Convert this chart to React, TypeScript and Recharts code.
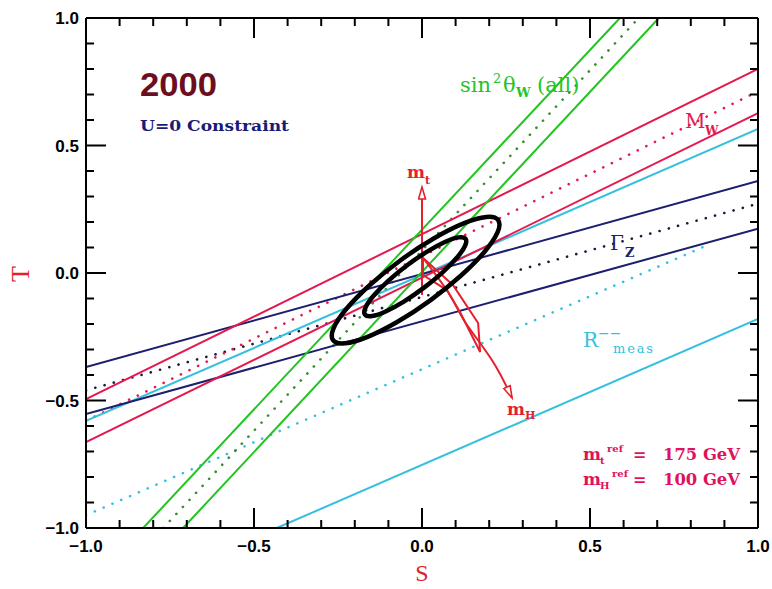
import React from "react";
import { ComposedChart, Line, XAxis, YAxis } from "recharts";

// ---------- data (S, T) ----------
const TICKS = [-1, -0.9, -0.8, -0.7, -0.6, -0.5, -0.4, -0.3, -0.2, -0.1, 0, 0.1, 0.2, 0.3, 0.4, 0.5, 0.6, 0.7, 0.8, 0.9, 1];
const MAJOR_TICKS = [-1, -0.5, 0, 0.5, 1];
const MAJOR_LABELS = ["\u22121.0", "\u22120.5", "0.0", "0.5", "1.0"];

// sin^2 theta_W (all) band
const SIN2_UPPER = [{ S: -0.83, T: -1 }, { S: 0.589, T: 1 }];
const SIN2_CENTER = [{ S: -0.77, T: -1 }, { S: 0.645, T: 1 }];
const SIN2_LOWER = [{ S: -0.711, T: -1 }, { S: 0.705, T: 1 }];

// M_W band
const MW_UPPER = [{ S: -1, T: -0.495 }, { S: 1, T: 0.8 }];
const MW_CENTER = [{ S: -1, T: -0.58 }, { S: 1, T: 0.712 }];
const MW_LOWER = [{ S: -1, T: -0.663 }, { S: 1, T: 0.627 }];

// Gamma_Z band
const GZ_UPPER = [{ S: -1, T: -0.369 }, { S: 1, T: 0.361 }];
const GZ_CENTER = [{ S: -1, T: -0.46 }, { S: 1, T: 0.272 }];
const GZ_LOWER = [{ S: -1, T: -0.553 }, { S: 1, T: 0.174 }];

// R_meas band
const R_UPPER = [{ S: -1, T: -0.58 }, { S: 1, T: 0.565 }];
const R_CENTER = [{ S: -1, T: -0.95 }, { S: 0.86, T: 0.115 }];
const R_LOWER = [{ S: -0.432, T: -1 }, { S: 1, T: -0.18 }];

// confidence contours
const OUTER_CONTOUR = [
  { S: 0.2331, T: 0.2134 }, { S: 0.1967, T: 0.2262 }, { S: 0.1275, T: 0.2001 }, { S: 0.0362, T: 0.1395 },
  { S: -0.0638, T: 0.0532 }, { S: -0.157, T: -0.0455 }, { S: -0.2289, T: -0.1413 }, { S: -0.2691, T: -0.22 },
  { S: -0.2711, T: -0.2694 }, { S: -0.2347, T: -0.2822 }, { S: -0.1655, T: -0.2561 }, { S: -0.0742, T: -0.1955 },
  { S: 0.0258, T: -0.1092 }, { S: 0.119, T: -0.0105 }, { S: 0.1909, T: 0.0853 }, { S: 0.2311, T: 0.164 },
];
const INNER_CONTOUR = [
  { S: 0.1336, T: 0.138 }, { S: 0.112, T: 0.1437 }, { S: 0.0704, T: 0.1252 }, { S: 0.015, T: 0.0856 },
  { S: -0.0458, T: 0.0306 }, { S: -0.1026, T: -0.0312 }, { S: -0.1468, T: -0.0904 }, { S: -0.1718, T: -0.1381 },
  { S: -0.1736, T: -0.167 }, { S: -0.152, T: -0.1727 }, { S: -0.1104, T: -0.1542 }, { S: -0.055, T: -0.1146 },
  { S: 0.0058, T: -0.0596 }, { S: 0.0626, T: 0.0022 }, { S: 0.1068, T: 0.0614 }, { S: 0.1318, T: 0.1091 },
];

// SM arrows
const MT_ARROW = [{ S: 0, T: -0.086 }, { S: 0, T: 0.337 }];
const MH_ARROW = [
  { S: 0.003, T: 0.059 }, { S: 0.083, T: -0.086 }, { S: 0.128, T: -0.192 }, { S: 0.208, T: -0.341 }, { S: 0.268, T: -0.49 },
];
const SM_BAND = [
  { S: 0.003, T: 0.059 }, { S: 0.092, T: -0.047 }, { S: 0.167, T: -0.196 }, { S: 0.173, T: -0.31 },
  { S: 0.113, T: -0.153 }, { S: 0.074, T: -0.067 }, { S: 0.003, T: -0.008 },
];

// ---------- styling ----------
const GREEN = "#22c41f";
const RED = "#e3194f";
const NAVY = "#1c1f6e";
const CYAN = "#34c0de";
const ARROW_RED = "#e3202c";

const isMajor = (v: number) => MAJOR_TICKS.some((m) => Math.abs(m - v) < 1e-6);
const labelOf = (v: number) => {
  const i = MAJOR_TICKS.findIndex((m) => Math.abs(m - v) < 1e-6);
  return i >= 0 ? MAJOR_LABELS[i] : "";
};

const TICK_FONT = { fontFamily: "Liberation Sans, Arial, sans-serif", fontWeight: 700, fontSize: 17 } as const;

const BottomTick = (p: any) => {
  const v = p.payload.value;
  const major = isMajor(v);
  return (
    <g>
      <line x1={p.x} x2={p.x} y1={p.y} y2={p.y - (major ? 20 : 8)} stroke="#000" strokeWidth={2} />
      {major && (
        <text x={p.x} y={p.y + 24} textAnchor="middle" fill="#000" {...TICK_FONT}>
          {labelOf(v)}
        </text>
      )}
    </g>
  );
};
const TopTick = (p: any) => {
  const major = isMajor(p.payload.value);
  return <line x1={p.x} x2={p.x} y1={p.y} y2={p.y + (major ? 20 : 8)} stroke="#000" strokeWidth={2} />;
};
const LeftTick = (p: any) => {
  const v = p.payload.value;
  const major = isMajor(v);
  return (
    <g>
      <line x1={p.x} x2={p.x + (major ? 20 : 8)} y1={p.y} y2={p.y} stroke="#000" strokeWidth={2} />
      {major && (
        <text x={p.x - 7} y={p.y + 6} textAnchor="end" fill="#000" {...TICK_FONT}>
          {labelOf(v)}
        </text>
      )}
    </g>
  );
};
const RightTick = (p: any) => {
  const major = isMajor(p.payload.value);
  return <line x1={p.x} x2={p.x - (major ? 20 : 8)} y1={p.y} y2={p.y} stroke="#000" strokeWidth={2} />;
};

const dotted = { strokeDasharray: "0.1 9.5", strokeLinecap: "round" as const, strokeWidth: 2.6 };

export default function App() {
  const common = {
    xAxisId: "b",
    yAxisId: "l",
    dataKey: "T",
    dot: false,
    activeDot: false,
    isAnimationActive: false,
    type: "linear" as const,
  };
  const serif = "DejaVu Serif, serif";
  return (
    <div style={{ position: "absolute", left: 0, top: 0, width: 772, height: 589, background: "#fff" }}>
      <svg width={0} height={0} style={{ position: "absolute" }}>
        <defs>
          <marker id="openArrow" markerUnits="userSpaceOnUse" markerWidth={16} markerHeight={12} refX={13} refY={4.5} orient="auto">
            <path d="M1,1 L13,4.5 L1,8 Z" fill="#fff" stroke={ARROW_RED} strokeWidth={1.6} />
          </marker>
        </defs>
      </svg>
      <ComposedChart width={772} height={589} margin={{ top: 10, right: 4, bottom: 0, left: 0 }}>
        <XAxis xAxisId="b" dataKey="S" type="number" domain={[-1, 1]} ticks={TICKS} interval={0} allowDataOverflow
          height={61} tickSize={0} tickMargin={0} tickLine={false} tick={BottomTick} axisLine={{ stroke: "#000", strokeWidth: 2 }} />
        <XAxis xAxisId="t" orientation="top" dataKey="S" type="number" domain={[-1, 1]} ticks={TICKS} interval={0} allowDataOverflow
          height={8} tickSize={0} tickMargin={0} tickLine={false} tick={TopTick} axisLine={{ stroke: "#000", strokeWidth: 2 }} />
        <YAxis yAxisId="l" type="number" domain={[-1, 1]} ticks={TICKS} interval={0} allowDataOverflow
          width={86} tickSize={0} tickMargin={0} tickLine={false} tick={LeftTick} axisLine={{ stroke: "#000", strokeWidth: 2 }} />
        <YAxis yAxisId="r" orientation="right" type="number" domain={[-1, 1]} ticks={TICKS} interval={0} allowDataOverflow
          width={10} tickSize={0} tickMargin={0} tickLine={false} tick={RightTick} axisLine={{ stroke: "#000", strokeWidth: 2 }} />

        <Line {...common} data={R_CENTER} stroke={CYAN} {...dotted} />
        <Line {...common} data={GZ_CENTER} stroke="#1a1a3a" {...dotted} />
        <Line {...common} data={MW_CENTER} stroke={RED} {...dotted} />
        <Line {...common} data={SIN2_CENTER} stroke="#3a8a30" {...dotted} />

        <Line {...common} data={R_UPPER} stroke={CYAN} strokeWidth={2} />
        <Line {...common} data={R_LOWER} stroke={CYAN} strokeWidth={2} />
        <Line {...common} data={GZ_UPPER} stroke={NAVY} strokeWidth={2} />
        <Line {...common} data={GZ_LOWER} stroke={NAVY} strokeWidth={2} />
        <Line {...common} data={MW_UPPER} stroke={RED} strokeWidth={2} />
        <Line {...common} data={MW_LOWER} stroke={RED} strokeWidth={2} />
        <Line {...common} data={SIN2_UPPER} stroke={GREEN} strokeWidth={2} />
        <Line {...common} data={SIN2_LOWER} stroke={GREEN} strokeWidth={2} />

        <Line {...common} data={SM_BAND} type="linearClosed" stroke={ARROW_RED} strokeWidth={2} />
        <Line {...common} data={MH_ARROW} type="natural" stroke={ARROW_RED} strokeWidth={2} markerEnd="url(#openArrow)" />
        <Line {...common} data={MT_ARROW} stroke={ARROW_RED} strokeWidth={2} markerEnd="url(#openArrow)" />

        <Line {...common} data={OUTER_CONTOUR} type="basisClosed" stroke="#000" strokeWidth={4.5} />
        <Line {...common} data={INNER_CONTOUR} type="basisClosed" stroke="#000" strokeWidth={4.5} />
      </ComposedChart>

      <svg width={772} height={589} style={{ position: "absolute", left: 0, top: 0, pointerEvents: "none" }}>
        <text x={140} y={96} fill="#6b0f1f" fontFamily="Liberation Sans, Arial, sans-serif" fontWeight={700} fontSize={34} textLength={77} lengthAdjust="spacingAndGlyphs">2000</text>
        <text x={140} y={131} fill="#1a1a7a" fontFamily={serif} fontWeight={700} fontSize={15} textLength={149} lengthAdjust="spacingAndGlyphs">U=0 Constraint</text>

        <g fill={GREEN} fontFamily={serif} fontSize={21}>
          <text x={460} y={92}>sin</text>
          <text x={493} y={83} fontSize={13}>2</text>
          <text x={503} y={92}>θ</text>
          <text x={516} y={97} fontSize={13} fontWeight={700}>W</text>
          <text x={537} y={92}>(all)</text>
        </g>

        <g fill={RED} fontFamily={serif}>
          <text x={685} y={128} fontSize={20}>M</text>
          <text x={705} y={135} fontSize={12} fontWeight={700}>W</text>
        </g>

        <g fill={ARROW_RED} fontFamily={serif} fontWeight={700}>
          <text x={407} y={178} fontSize={17}>m</text>
          <text x={425} y={184} fontSize={11}>t</text>
          <text x={507} y={415} fontSize={17}>m</text>
          <text x={525} y={419} fontSize={11}>H</text>
        </g>

        <g fill={NAVY} fontFamily={serif}>
          <text x={610} y={250} fontSize={20}>Γ</text>
          <text x={625} y={257} fontSize={13} fontWeight={700}>Z</text>
        </g>

        <g fill={CYAN} fontFamily={serif}>
          <text x={583} y={347} fontSize={20}>R</text>
          <text x={598} y={338} fontSize={14}>−−</text>
          <text x={613} y={353} fontSize={13} textLength={40}>meas</text>
        </g>

        <g fill="#e0125c" fontFamily={serif} fontWeight={700}>
          <text x={583} y={460} fontSize={17}>m</text>
          <text x={600} y={464} fontSize={10}>t</text>
          <text x={607} y={452} fontSize={10}>ref</text>
          <text x={633} y={460} fontSize={16}>=</text>
          <text x={663} y={460} fontSize={17} textLength={77} lengthAdjust="spacingAndGlyphs">175 GeV</text>

          <text x={583} y={485} fontSize={17}>m</text>
          <text x={600} y={489} fontSize={10}>H</text>
          <text x={612} y={477} fontSize={10}>ref</text>
          <text x={633} y={485} fontSize={16}>=</text>
          <text x={663} y={485} fontSize={17} textLength={77} lengthAdjust="spacingAndGlyphs">100 GeV</text>
        </g>

        <text x={0} y={0} transform="translate(29,274) rotate(-90)" textAnchor="middle" fill="#e0202a" fontFamily="Liberation Serif, serif" fontSize={26}>T</text>
        <text x={422} y={581} textAnchor="middle" fill="#e0202a" fontFamily="Liberation Serif, serif" fontSize={24}>S</text>
      </svg>
    </div>
  );
}
